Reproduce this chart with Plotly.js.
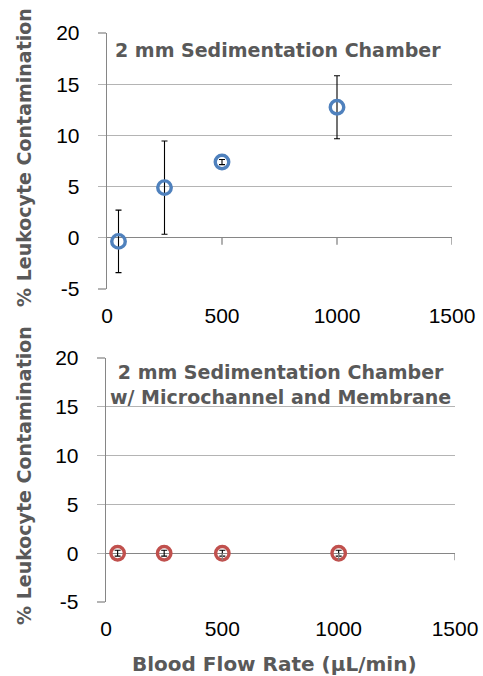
<!DOCTYPE html>
<html>
<head>
<meta charset="utf-8">
<script src="https://cdn.plot.ly/plotly-3.0.1.min.js"></script>
<style>html,body{margin:0;padding:0;background:#fff;}#chart{width:483px;height:676px;}</style>
</head>
<body>
<div id="chart"></div>
<script>
// Data
const flowRates = [50, 250, 500, 1000];
const chamberOnly = [-0.35, 4.9, 7.4, 12.75];
const chamberOnlyErr = [3.05, 4.55, 0.25, 3.08];
const withMembrane = [0, 0, 0, 0];
const withMembraneErr = [0.3, 0.3, 0.3, 0.3];
const xTicks = [0, 500, 1000, 1500];
const yTicks = [-5, 0, 5, 10, 15, 20];
const topTitle = '2 mm Sedimentation Chamber';
const bottomTitle = '2 mm Sedimentation Chamber<br>w/ Microchannel and Membrane';
const yTitle = '% Leukocyte Contamination';
const xTitle = 'Blood Flow Rate (µL/min)';

const W = 483, H = 676;
const gray = '#595959';
const axisGray = '#868686';
const gridGray = '#b4b4b4';
const tickFont = {family: 'Liberation Sans, Arial, sans-serif', size: 21, color: '#000'};
const titleFont = {family: 'DejaVu Sans, Verdana, sans-serif', size: 19, color: gray};
const xTitleFont = {family: 'DejaVu Sans, Verdana, sans-serif', size: 20, color: gray};

function px2x(p){return p / W;}
function py2y(p){return 1 - p / H;}

const traces = [
  {
    x: flowRates, y: chamberOnly, xaxis: 'x', yaxis: 'y', mode: 'markers', type: 'scatter',
    marker: {symbol: 'circle-open', size: 13.5, color: '#4F81BD', line: {width: 3.4, color: '#4F81BD'}},
    error_y: {type: 'data', array: chamberOnlyErr, visible: true, color: '#000', thickness: 1.1, width: 3},
    cliponaxis: false, showlegend: false
  },
  {
    x: flowRates, y: withMembrane, xaxis: 'x2', yaxis: 'y2', mode: 'markers', type: 'scatter',
    marker: {symbol: 'circle-open', size: 13.5, color: '#C0504D', line: {width: 3.4, color: '#C0504D'}},
    error_y: {type: 'data', array: withMembraneErr, visible: true, color: '#000', thickness: 1.1, width: 3},
    cliponaxis: false, showlegend: false
  }
];

function xAxis(domain, anchor){
  return {
    domain: domain, anchor: anchor, range: [0, 1500], tickvals: xTicks, ticktext: xTicks.map(String),
    showgrid: false, zeroline: false, showline: false, ticks: '', tickfont: tickFont,
    ticklabelstandoff: 12, fixedrange: true
  };
}
function yAxis(domain, anchor){
  return {
    domain: domain, anchor: anchor, range: [-5, 20], tickvals: yTicks, ticktext: yTicks.map(String),
    showgrid: true, gridcolor: gridGray, gridwidth: 1.3,
    zeroline: true, zerolinecolor: axisGray, zerolinewidth: 1.3,
    showline: true, linecolor: axisGray, linewidth: 1.3,
    ticks: 'outside', ticklen: 8, tickcolor: gridGray, tickwidth: 1.3,
    tickfont: tickFont, ticklabelstandoff: 14, fixedrange: true
  };
}

// small tick marks on the zero-crossing x axis
const shapes = [];
[['x','y'],['x2','y2']].forEach(([xa, ya]) => {
  xTicks.slice(1).forEach(v => {
    shapes.push({type: 'line', xref: xa, yref: ya, x0: v, x1: v, ysizemode: 'pixel', yanchor: 0, y0: 0, y1: -7,
      line: {color: axisGray, width: 1.3}});
  });
});

const layout = {
  width: W, height: H,
  margin: {l: 0, r: 0, t: 0, b: 0},
  paper_bgcolor: '#fff', plot_bgcolor: '#fff',
  xaxis: xAxis([px2x(107), px2x(452)], 'y'),
  yaxis: yAxis([py2y(289), py2y(33)], 'x'),
  xaxis2: xAxis([px2x(106), px2x(455)], 'y2'),
  yaxis2: yAxis([py2y(602), py2y(358)], 'x2'),
  shapes: shapes,
  annotations: [
    {text: '<b>' + topTitle + '</b>', xref: 'x domain', yref: 'y domain', x: 0.495, y: 0.934,
      xanchor: 'center', yanchor: 'middle', showarrow: false, font: titleFont},
    {text: '<b>' + bottomTitle + '</b>', xref: 'x2 domain', yref: 'y2 domain', x: 0.5, y: 0.893,
      xanchor: 'center', yanchor: 'middle', showarrow: false, font: titleFont},
    {text: '<b>' + yTitle + '</b>', xref: 'paper', yref: 'paper', x: px2x(24), y: py2y(158),
      xanchor: 'center', yanchor: 'middle', textangle: -90, showarrow: false, font: titleFont},
    {text: '<b>' + yTitle + '</b>', xref: 'paper', yref: 'paper', x: px2x(24), y: py2y(476),
      xanchor: 'center', yanchor: 'middle', textangle: -90, showarrow: false, font: titleFont},
    {text: '<b>' + xTitle + '</b>', xref: 'paper', yref: 'paper', x: px2x(274), y: py2y(664),
      xanchor: 'center', yanchor: 'middle', showarrow: false, font: xTitleFont}
  ]
};

Plotly.newPlot('chart', traces, layout, {displayModeBar: false, staticPlot: true});
</script>
</body>
</html>
